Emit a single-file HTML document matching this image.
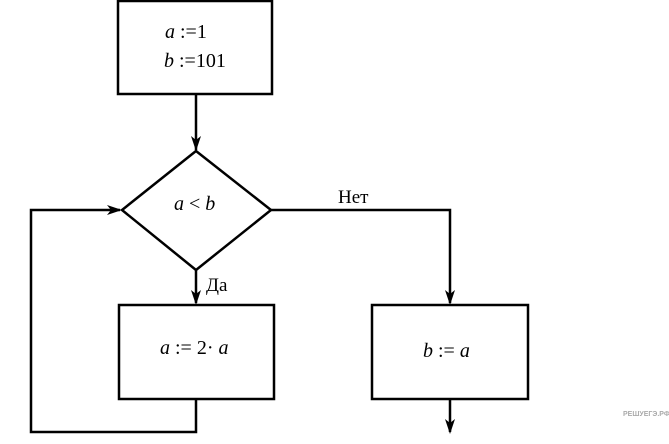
<!DOCTYPE html>
<html><head><meta charset="utf-8"><style>
body{margin:0;background:#fff}
svg{display:block}
.m{font-family:"Liberation Serif",serif;font-size:20px;font-style:italic}
.r{font-family:"Liberation Serif",serif;font-size:19px}
</style></head><body>
<svg width="669" height="444" viewBox="0 0 669 444" xmlns="http://www.w3.org/2000/svg">
<g fill="none" stroke="#000" stroke-width="2.5">
<rect x="118" y="1" width="154" height="93"/>
<line x1="196" y1="94" x2="196" y2="150"/>
<polygon points="196,151 271,210 196,270 122,210"/>
<polyline points="271,210 450,210 450,303"/>
<line x1="196" y1="270" x2="196" y2="303"/>
<rect x="119" y="305" width="155" height="94"/>
<rect x="372" y="305" width="156" height="94"/>
<line x1="450" y1="399" x2="450" y2="432"/>
<polyline points="196,399 196,432 31,432 31,210 120,210"/>
</g>
<g fill="#000">
<polygon points="196,151 191,136 196,140 201,136"/>
<polygon points="196,305 191,290 196,294 201,290"/>
<polygon points="450,305 445,290 450,294 455,290"/>
<polygon points="450,434 445,419 450,423 455,419"/>
<polygon points="122,210 107,205 111,210 107,215"/>
</g>
<text class="m" x="165" y="38">a<tspan font-style="normal"> :=1</tspan></text>
<text class="m" x="164" y="67">b<tspan font-style="normal"> :=101</tspan></text>
<text class="m" x="174" y="210">a<tspan font-style="normal"> &lt; </tspan>b</text>
<text class="r" x="338" y="203">Нет</text>
<text class="r" x="206" y="291">Да</text>
<text class="m" x="160" y="354">a<tspan font-style="normal"> := 2· </tspan>a</text>
<text class="m" x="423" y="357">b<tspan font-style="normal"> := </tspan>a</text>
<text x="623" y="416" font-family="Liberation Sans,sans-serif" font-size="7" fill="#aaa" font-weight="bold">РЕШУЕГЭ.РФ</text>
</svg>
</body></html>
